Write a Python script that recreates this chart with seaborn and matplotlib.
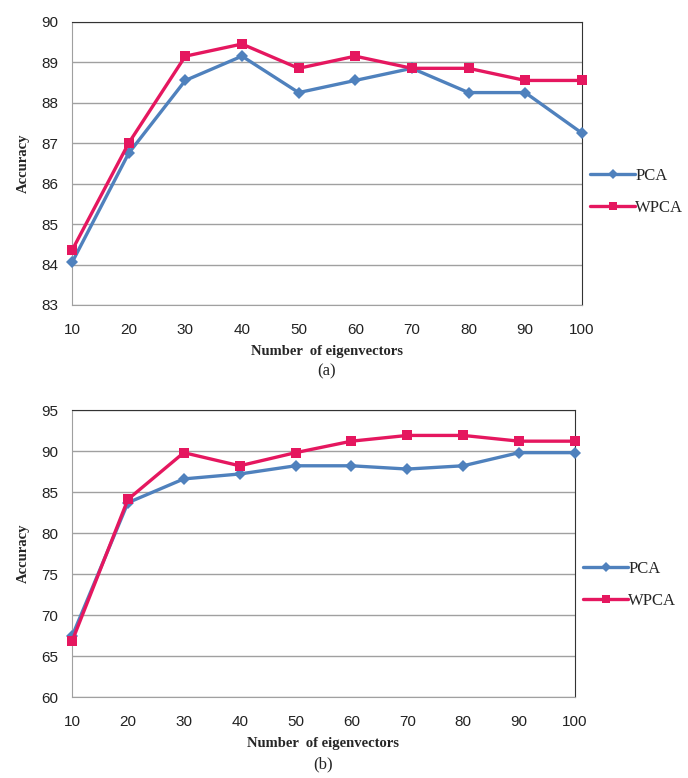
import numpy as np
import pandas as pd
import matplotlib
matplotlib.use("Agg")
import matplotlib.pyplot as plt
import seaborn as sns

eigvecs = [10, 20, 30, 40, 50, 60, 70, 80, 90, 100]

# panel (a)
pca_a = [84.05, 86.75, 88.55, 89.15, 88.25, 88.55, 88.85, 88.25, 88.25, 87.25]
wpca_a = [84.35, 87.0, 89.15, 89.45, 88.85, 89.15, 88.85, 88.85, 88.55, 88.55]

# panel (b)
pca_b = [67.4, 83.7, 86.6, 87.2, 88.2, 88.2, 87.8, 88.2, 89.8, 89.8]
wpca_b = [66.8, 84.1, 89.8, 88.2, 89.8, 91.2, 91.9, 91.9, 91.2, 91.2]

blue = "#4F81BD"
pink = "#E5175F"

sns.set_style("white")
plt.rcParams['font.family'] = ['Liberation Sans', 'DejaVu Sans']

fig = plt.figure(figsize=(6.88, 7.78), dpi=100)
ax1 = fig.add_axes([0.1047, 0.608, 0.741, 0.364])
ax2 = fig.add_axes([0.1047, 0.104, 0.731, 0.369])


def draw_panel(ax, pca, wpca, ylim, yticks, tag, leg_y):
    df = pd.DataFrame({'x': eigvecs, 'PCA': pca, 'WPCA': wpca})
    sns.lineplot(data=df, x='x', y='PCA', ax=ax, color=blue, lw=2.4,
                 marker='D', markersize=6.5, markeredgewidth=0, label='PCA',
                 clip_on=False, zorder=3)
    sns.lineplot(data=df, x='x', y='WPCA', ax=ax, color=pink, lw=2.4,
                 marker='s', markersize=7, markeredgewidth=0, label='WPCA',
                 clip_on=False, zorder=4)
    ax.set_xlim(10, 100)
    ax.set_ylim(*ylim)
    ax.set_xticks(eigvecs)
    ax.set_yticks(yticks)
    ax.grid(axis='y', color='#a0a0a0', lw=1)
    ax.set_axisbelow(True)
    for side in ['left', 'bottom']:
        ax.spines[side].set_color('#a0a0a0')
    for side in ['top', 'right']:
        ax.spines[side].set_color('#333333')
    ax.tick_params(axis='both', length=0, labelsize=11, colors='#222222')
    ax.tick_params(axis='x', pad=13)
    ax.tick_params(axis='y', pad=10)
    ax.set_xlabel('Number  of eigenvectors', family='Liberation Serif',
                  fontweight='bold', fontsize=10.5, labelpad=6)
    ax.set_ylabel('Accuracy', family='Liberation Serif', fontweight='bold',
                  fontsize=10.5, labelpad=8)
    ax.text(0.5, -0.235, tag, transform=ax.transAxes, ha='center', va='center',
            family='Liberation Serif', fontsize=12)
    ax.legend(loc='center left', bbox_to_anchor=(1.0, leg_y), frameon=False,
              prop={'family': 'Liberation Serif', 'size': 12},
              handlelength=2.7, handletextpad=0.0, labelspacing=0.95,
              borderaxespad=0.1, markerscale=0.85)


draw_panel(ax1, pca_a, wpca_a, (83, 90), range(83, 91), '(a)', 0.4)
draw_panel(ax2, pca_b, wpca_b, (60, 95), range(60, 96, 5), '(b)', 0.39)

fig.savefig('out.png', dpi=100, facecolor='white')
